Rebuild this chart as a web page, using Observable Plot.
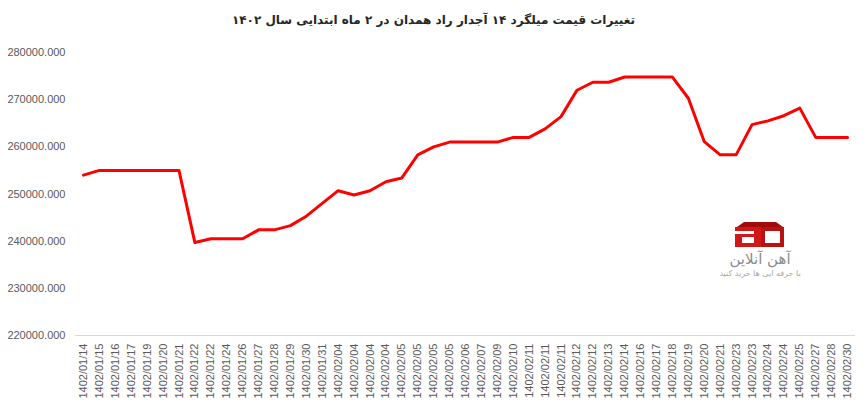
<!DOCTYPE html>
<html>
<head>
<meta charset="utf-8">
<script src="https://cdn.jsdelivr.net/npm/d3@7"></script>
<script src="https://cdn.jsdelivr.net/npm/@observablehq/plot@0.6"></script>
<style>
  html, body { margin: 0; padding: 0; background: #fff; }
  #wrap { position: relative; width: 867px; height: 407px; overflow: hidden; }
  #title { height: 36px; line-height: 40px; text-align: center; direction: rtl;
           font-family: "DejaVu Sans", sans-serif; font-weight: bold; font-size: 12px; color: #262626; }
  #logo { position: absolute; left: 710px; top: 215px; }
</style>
</head>
<body>
<div id="wrap">
  <div id="title">تغییرات قیمت میلگرد ۱۴ آجدار راد همدان در ۲ ماه ابتدایی سال ۱۴۰۲</div>
  <div id="chart"></div>
  <svg id="logo" width="100" height="70" viewBox="0 0 100 70">
    <polygon points="27,12 34,7 66,7 73,12" fill="#9e0c0c"/>
    <rect x="25" y="12" width="26" height="20" fill="#d01818"/>
    <rect x="51" y="12" width="23" height="20" fill="#b81212"/>
    <rect x="25" y="16" width="19" height="3" fill="#fff"/>
    <rect x="32" y="22" width="12" height="6" fill="#fff"/>
    <rect x="55" y="16" width="15" height="12" fill="#fff"/>
    <text x="50" y="49" text-anchor="middle" direction="rtl" font-family="DejaVu Sans, sans-serif" font-size="15" fill="#8c8c8c">آهن آنلاین</text>
    <text x="50" y="61" text-anchor="middle" direction="rtl" font-family="DejaVu Sans, sans-serif" font-size="8" fill="#a8a8a8">با حرفه ایی ها خرید کنید</text>
  </svg>
</div>
<script>
const labels = [
  "1402/01/14","1402/01/15","1402/01/16","1402/01/17","1402/01/19","1402/01/20","1402/01/21",
  "1402/01/22","1402/01/22","1402/01/24","1402/01/26","1402/01/27","1402/01/28","1402/01/29",
  "1402/01/30","1402/01/31","1402/02/04","1402/02/04","1402/02/04","1402/02/04","1402/02/05",
  "1402/02/05","1402/02/05","1402/02/05","1402/02/06","1402/02/07","1402/02/09","1402/02/10",
  "1402/02/11","1402/02/11","1402/02/11","1402/02/12","1402/02/12","1402/02/13","1402/02/14",
  "1402/02/16","1402/02/17","1402/02/18","1402/02/19","1402/02/20","1402/02/21","1402/02/23",
  "1402/02/23","1402/02/24","1402/02/24","1402/02/25","1402/02/27","1402/02/28","1402/02/30"
];
const prices = [
  254000, 255000, 255000, 255000, 255000, 255000, 255000,
  239700, 240500, 240500, 240500, 242400, 242400, 243300,
  245300, 248000, 250700, 249800, 250700, 252600, 253400,
  258300, 260000, 261000, 261000, 261000, 261000, 262000,
  262000, 263800, 266400, 272000, 273700, 273700, 274800,
  274800, 274800, 274800, 270300, 261100, 258300, 258300,
  264700, 265500, 266600, 268200, 262000, 262000, 262000
];
const yTicks = [220000, 230000, 240000, 250000, 260000, 270000, 280000];

const data = prices.map((p, i) => ({i, label: labels[i], price: p}));

const chart = Plot.plot({
  width: 867,
  height: 371,
  marginLeft: 75,
  marginRight: 12,
  marginTop: 16,
  marginBottom: 72,
  style: {fontFamily: "'Liberation Sans', Arial, sans-serif", fontSize: "11px", color: "#595959", background: "#fff"},
  x: {type: "point", domain: d3.range(labels.length), padding: 0.5, label: null},
  y: {domain: [220000, 280000], label: null},
  marks: [
    Plot.axisY(yTicks, {tickSize: 0, tickPadding: 10, tickFormat: d => d.toFixed(3), label: null, fontSize: 11}),
    Plot.axisX({tickSize: 0, tickPadding: 8, tickRotate: -90, tickFormat: i => labels[i], label: null, fontSize: 11}),
    Plot.ruleY([220000], {stroke: "#d9d9d9", strokeWidth: 1}),
    Plot.lineY(data, {x: "i", y: "price", stroke: "#ff0000", strokeWidth: 3, strokeLinejoin: "round"})
  ]
});
document.getElementById("chart").appendChild(chart);
</script>
</body>
</html>
